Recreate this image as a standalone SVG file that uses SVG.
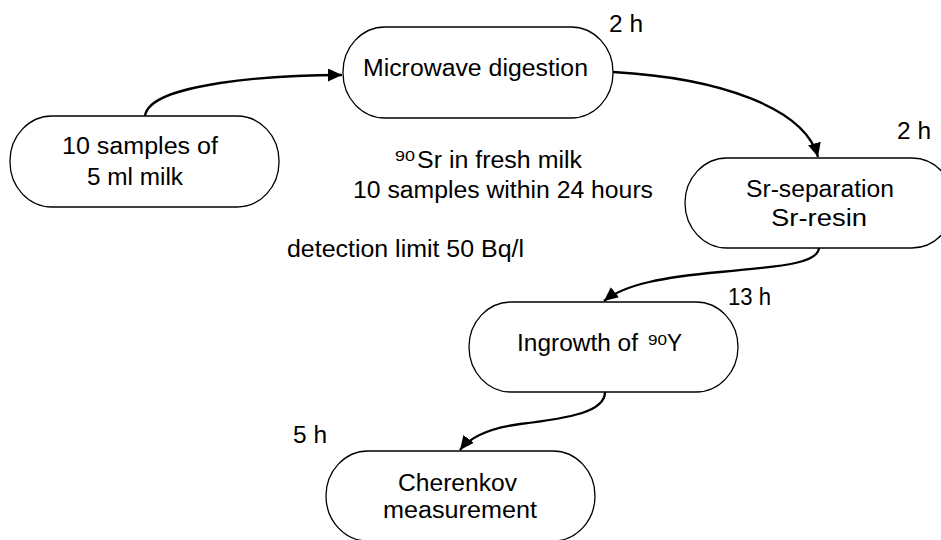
<svg xmlns="http://www.w3.org/2000/svg" width="941" height="540" viewBox="0 0 941 540">
  <style>
    .node { fill: #ffffff; stroke: #000000; stroke-width: 1.3; }
    .lbl { font-family: "Liberation Sans", Arial, sans-serif; font-size: 23.5px; fill: #000000; }
    .sup { font-family: "Liberation Sans", Arial, sans-serif; font-size: 15px; fill: #000000; }
    .conn { fill: none; stroke: #000000; stroke-width: 2.3; }
  </style>
  <defs>
    <marker id="arrow" markerUnits="userSpaceOnUse" markerWidth="16" markerHeight="14" refX="14" refY="6.5" orient="auto">
      <path d="M0,0 L14,6.5 L0,13 z" fill="#000000"/>
    </marker>
  </defs>
  <rect width="941" height="540" fill="#ffffff"/>

  <g id="connectors">
    <path class="conn" marker-end="url(#arrow)" d="M145,116 C147,100 175,90 220,83 C260,77 300,75 342,75"/>
    <path class="conn" marker-end="url(#arrow)" d="M613,72 C720,78 805,108 818,157"/>
    <path class="conn" marker-end="url(#arrow)" d="M819,248 C818,262 790,266 720,272 C665,277 625,284 604,301"/>
    <path class="conn" marker-end="url(#arrow)" d="M605,392 C605,412 570,418 520,424 C490,428 470,437 460,450"/>
  </g>

  <g id="node-samples">
    <rect class="node" x="10" y="116" width="269" height="91" rx="42" ry="45"/>
    <text class="lbl" x="62" y="154" textLength="156" lengthAdjust="spacingAndGlyphs">10 samples of</text>
    <text class="lbl" x="87" y="185" textLength="96" lengthAdjust="spacingAndGlyphs">5 ml milk</text>
  </g>

  <g id="node-microwave">
    <rect class="node" x="343" y="27" width="270" height="91" rx="42" ry="45"/>
    <text class="lbl" x="363" y="76" textLength="225" lengthAdjust="spacingAndGlyphs">Microwave digestion</text>
    <text class="lbl" x="609" y="32" textLength="34" lengthAdjust="spacingAndGlyphs">2 h</text>
  </g>

  <g id="node-srsep">
    <rect class="node" x="685" y="158" width="269" height="90" rx="42" ry="45"/>
    <text class="lbl" x="746" y="197" textLength="148" lengthAdjust="spacingAndGlyphs">Sr-separation</text>
    <text class="lbl" x="771" y="226" textLength="96" lengthAdjust="spacingAndGlyphs">Sr-resin</text>
    <text class="lbl" x="897" y="139" textLength="34" lengthAdjust="spacingAndGlyphs">2 h</text>
  </g>

  <g id="node-ingrowth">
    <rect class="node" x="469" y="302" width="269" height="90" rx="42" ry="45"/>
    <text class="lbl" x="517" y="351" textLength="121" lengthAdjust="spacingAndGlyphs">Ingrowth of</text>
    <text class="sup" x="648" y="345" textLength="19" lengthAdjust="spacingAndGlyphs">90</text>
    <text class="lbl" x="667" y="351" textLength="15" lengthAdjust="spacingAndGlyphs">Y</text>
    <text class="lbl" x="728" y="305" textLength="43" lengthAdjust="spacingAndGlyphs">13 h</text>
  </g>

  <g id="node-cherenkov">
    <rect class="node" x="326" y="451" width="269" height="90" rx="42" ry="45"/>
    <text class="lbl" x="398" y="491" textLength="119" lengthAdjust="spacingAndGlyphs">Cherenkov</text>
    <text class="lbl" x="383" y="518" textLength="154" lengthAdjust="spacingAndGlyphs">measurement</text>
    <text class="lbl" x="293" y="443" textLength="34" lengthAdjust="spacingAndGlyphs">5 h</text>
  </g>

  <g id="notes">
    <text class="sup" x="395" y="161" textLength="20" lengthAdjust="spacingAndGlyphs">90</text>
    <text class="lbl" x="417" y="168" textLength="165" lengthAdjust="spacingAndGlyphs">Sr in fresh milk</text>
    <text class="lbl" x="353" y="198" textLength="300" lengthAdjust="spacingAndGlyphs">10 samples within 24 hours</text>
    <text class="lbl" x="287" y="257" textLength="237" lengthAdjust="spacingAndGlyphs">detection limit 50 Bq/l</text>
  </g>
</svg>
